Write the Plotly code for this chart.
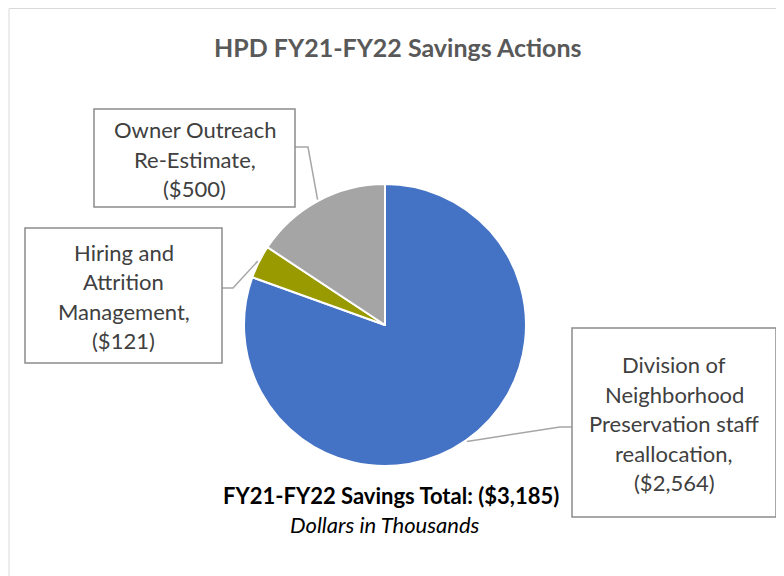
import math
import plotly.graph_objects as go

# ---- data ----
categories = ["Division of Neighborhood Preservation staff reallocation",
              "Hiring and Attrition Management",
              "Owner Outreach Re-Estimate"]
values = [2564, 121, 500]
label_lines = [
    ["Division of", "Neighborhood", "Preservation staff", "reallocation,", "($2,564)"],
    ["Hiring and", "Attrition", "Management,", "($121)"],
    ["Owner Outreach", "Re-Estimate,", "($500)"],
]
colors = ["#4472C4", "#999900", "#A5A5A5"]
title_text = "HPD FY21-FY22 Savings Actions"
total_text = "FY21-FY22 Savings Total: ($3,185)"
unit_text = "Dollars in Thousands"

W, H = 784, 576
OFF = 8  # page margin offset of the figure in the browser
CX, CY, R = 385, 325, 141
FONT = "Lato, 'Open Sans', sans-serif"

def px(x):
    return (x - OFF) / W

def py(y):
    return 1 - (y - OFF) / H

fig = go.Figure()
fig.add_trace(go.Pie(
    labels=categories, values=values, sort=False, direction="clockwise",
    rotation=0, textinfo="none", hoverinfo="label+value",
    marker=dict(colors=colors, line=dict(color="white", width=2)),
    domain=dict(x=[px(CX - R), px(CX + R)], y=[py(CY + R), py(CY - R)]),
    showlegend=False,
))

# label boxes (x0, y0, x1, y1) in pixels and leader elbows
boxes = [
    (572, 328, 776, 517),
    (25, 228, 222, 363),
    (94, 109, 295, 207),
]
elbows = [
    [(572, 427), (560, 427)],
    [(222, 288), (233, 288)],
    [(295, 147), (308, 147)],
]

shapes = []
annotations = []
total = sum(values)
cum = 0
for i, v in enumerate(values):
    mid = (cum + v / 2) / total * 2 * math.pi
    cum += v
    ex = CX + 1.01 * R * math.sin(mid)
    ey = CY - 1.01 * R * math.cos(mid)
    pts = elbows[i] + [(ex, ey)]
    path = "M " + " L ".join(f"{px(a)},{py(b)}" for a, b in pts)
    shapes.append(dict(type="path", path=path, xref="paper", yref="paper",
                       line=dict(color="#A6A6A6", width=1.5)))
    x0, y0, x1, y1 = boxes[i]
    shapes.append(dict(type="rect", xref="paper", yref="paper",
                       x0=px(x0), x1=px(x1), y0=py(y0), y1=py(y1),
                       line=dict(color="#8C8C8C", width=1.5), fillcolor="white", layer="above"))
    lines = label_lines[i]
    n = len(lines)
    cy = (y0 + y1) / 2 + 1
    for j, t in enumerate(lines):
        yy = cy + (j - (n - 1) / 2) * 29.5
        annotations.append(dict(text=t, x=px((x0 + x1) / 2), y=py(yy), xref="paper", yref="paper",
                                showarrow=False, xanchor="center", yanchor="middle",
                                font=dict(family=FONT, size=22, color="#404040")))

# chart border
shapes.insert(0, dict(type="rect", xref="paper", yref="paper", x0=px(9), x1=px(820), y0=py(8.5), y1=py(620),
                      line=dict(color="#D9D9D9", width=1), fillcolor="rgba(0,0,0,0)", layer="below"))

annotations.append(dict(text=f"<b>{title_text}</b>", x=px(398), y=py(47), xref="paper", yref="paper",
                        showarrow=False, xanchor="center", yanchor="middle",
                        font=dict(family=FONT, size=25, color="#595959")))
annotations.append(dict(text=f"<b>{total_text}</b>", x=px(391), y=py(495), xref="paper", yref="paper",
                        showarrow=False, xanchor="center", yanchor="middle",
                        font=dict(family=FONT, size=22, color="#000000")))
annotations.append(dict(text=f"<i>{unit_text}</i>", x=px(385), y=py(524), xref="paper", yref="paper",
                        showarrow=False, xanchor="center", yanchor="middle",
                        font=dict(family=FONT, size=22, color="#000000")))

fig.update_layout(width=W, height=H, margin=dict(l=0, r=0, t=0, b=0),
                  paper_bgcolor="white", plot_bgcolor="white",
                  shapes=shapes, annotations=annotations)
fig.write_html("out.html")
